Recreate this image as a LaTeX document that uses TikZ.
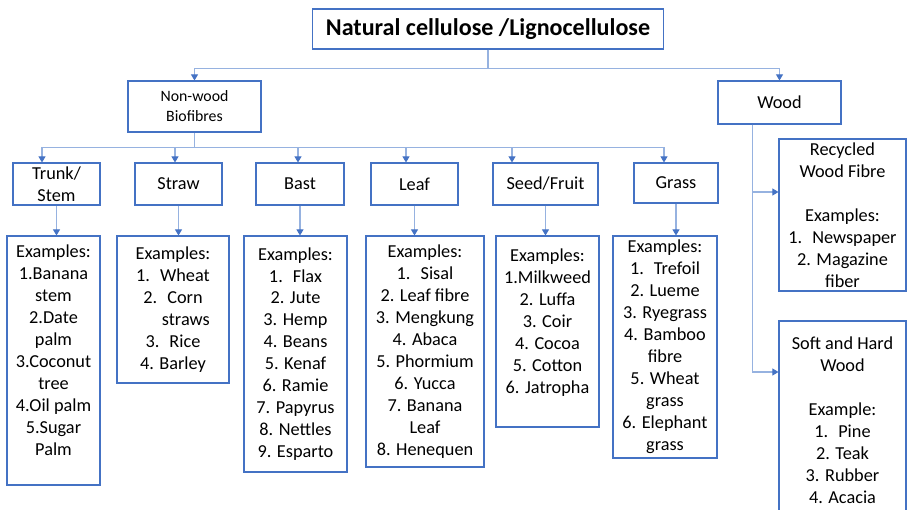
\documentclass[tikz,border=0pt]{standalone}
\usepackage{fontspec}
\setmainfont{Carlito}
\usepackage{xcolor}
\usetikzlibrary{positioning,
	calc,
	arrows.meta}
\definecolor{boxblue}{RGB}{68,114,196}
\definecolor{lineblue}{RGB}{150,178,224}
\newcommand{\numgap}{\hspace{0.55em}}

\begin{document}
\begin{tikzpicture}[x=0.02cm, y=-0.02cm,
	box/.style={draw=boxblue, line width=0.6pt, align=center, inner sep=0pt, font=\fontsize{10.4}{12.5}\selectfont},
	conn/.style={draw=lineblue, line width=0.6pt},
	arr/.style={conn, -{Triangle[length=3.5pt, width=4pt, color=boxblue]}}]
	\useasboundingbox (0, 0) rectangle (907, 510);
	\clip (0, 0) rectangle (907, 510);
	\node[box, minimum width=7.04cm, minimum height=0.8cm, font=\fontsize{13.7}{16}\selectfont\bfseries] (title) at (488, 29) {Natural cellulose /Lignocellulose};
	\node[box, minimum width=2.66cm, minimum height=1.02cm, font=\fontsize{9}{11.4}\selectfont] (nonwood) at (194.5, 106.5) {Non-wood\\Biofibres};
	\node[box, minimum width=2.46cm, minimum height=0.86cm] (wood) at (779.5, 102.5) {Wood};
	\node[box, minimum width=1.74cm, minimum height=0.84cm] (trunk) at (56.5, 184) {Trunk/\\Stem};
	\node[box, minimum width=1.74cm, minimum height=0.84cm] (straw) at (178.5, 184) {Straw};
	\node[box, minimum width=1.76cm, minimum height=0.84cm] (bast) at (300, 184) {Bast};
	\node[box, minimum width=1.74cm, minimum height=0.84cm] (leaf) at (414.5, 184) {Leaf};
	\node[box, minimum width=2.1cm, minimum height=0.84cm] (seed) at (545.5, 184) {Seed/Fruit};
	\node[box, minimum width=1.68cm, minimum height=0.8cm] (grass) at (676, 183) {Grass};
	\node[box, minimum width=1.86cm, minimum height=4.98cm, text depth=0.42cm] (ex-trunk) at (53.5, 360.5) {Examples:\\1.Banana\\stem\\2.Date\\palm\\3.Coconut\\tree\\4.Oil palm\\5.Sugar\\Palm};
	\node[box, minimum width=2.24cm, minimum height=2.94cm] (ex-straw) at (173, 309.5) {Examples:\\1.\numgap Wheat\\2.\numgap Corn\\\hspace*{1.4em}straws\\3.\numgap Rice\\4. Barley};
	\node[box, minimum width=2.06cm, minimum height=4.72cm] (ex-bast) at (295.5, 354) {Examples:\\1.\numgap Flax\\2. Jute\\3. Hemp\\4. Beans\\5. Kenaf\\6. Ramie\\7. Papyrus\\8. Nettles\\9. Esparto};
	\node[box, minimum width=2.36cm, minimum height=4.62cm] (ex-leaf) at (425, 351.5) {Examples:\\1.\numgap Sisal\\2. Leaf fibre\\3. Mengkung\\4. Abaca\\5. Phormium\\6. Yucca\\7. Banana\\Leaf\\8. Henequen};
	\node[box, minimum width=2.06cm, minimum height=3.82cm, text depth=0.42cm] (ex-seed) at (547.5, 331.5) {Examples:\\1.Milkweed\\2. Luffa\\3. Coir\\4. Cocoa\\5. Cotton\\6. Jatropha};
	\node[box, minimum width=2.08cm, minimum height=4.44cm] (ex-grass) at (665, 347) {Examples:\\1.\numgap Trefoil\\2. Lueme\\3. Ryegrass\\4. Bamboo\\fibre\\5. Wheat\\grass\\6. Elephant\\grass};
	\node[box, minimum width=2.54cm, minimum height=3.04cm] (recyc) at (842.5, 215) {Recycled\\Wood Fibre\\[12.5pt]Examples:\\1.\numgap Newspaper\\2. Magazine\\fiber};
	\node[box, minimum width=2.54cm, minimum height=3.96cm] (soft) at (842.5, 420) {Soft and Hard\\Wood\\[12.5pt]Example:\\1.\numgap Pine\\2. Teak\\3. Rubber\\4. Acacia};
	\draw[arr] (title.south) -- ++(0, 19) -| (nonwood.north);
	\draw[arr] (title.south) -- ++(0, 19) -| (wood.north);
	\coordinate (nwfork) at ($(nonwood.south) + (0, 15)$);
	\draw[conn] (nonwood.south) -- (nwfork);
	\foreach \cat/\dx in {trunk/-0.29, straw/-0.07, bast/-0.04, leaf/-0.17, seed/-0.67, grass/-0.24}
		\draw[arr] (nwfork) -| ([xshift=\dx cm]\cat.north);
	\foreach \cat in {trunk, straw, bast, leaf, seed, grass}
		\draw[arr] (\cat.south) -- (\cat.south |- ex-\cat.north);
	\coordinate (woodfork) at ([xshift=0.7cm]wood.south west);
	\draw[arr] (woodfork) |- ([yshift=0.46cm]recyc.west);
	\draw[arr] (woodfork) |- ([yshift=0.96cm]soft.west);
\end{tikzpicture}
\end{document}
